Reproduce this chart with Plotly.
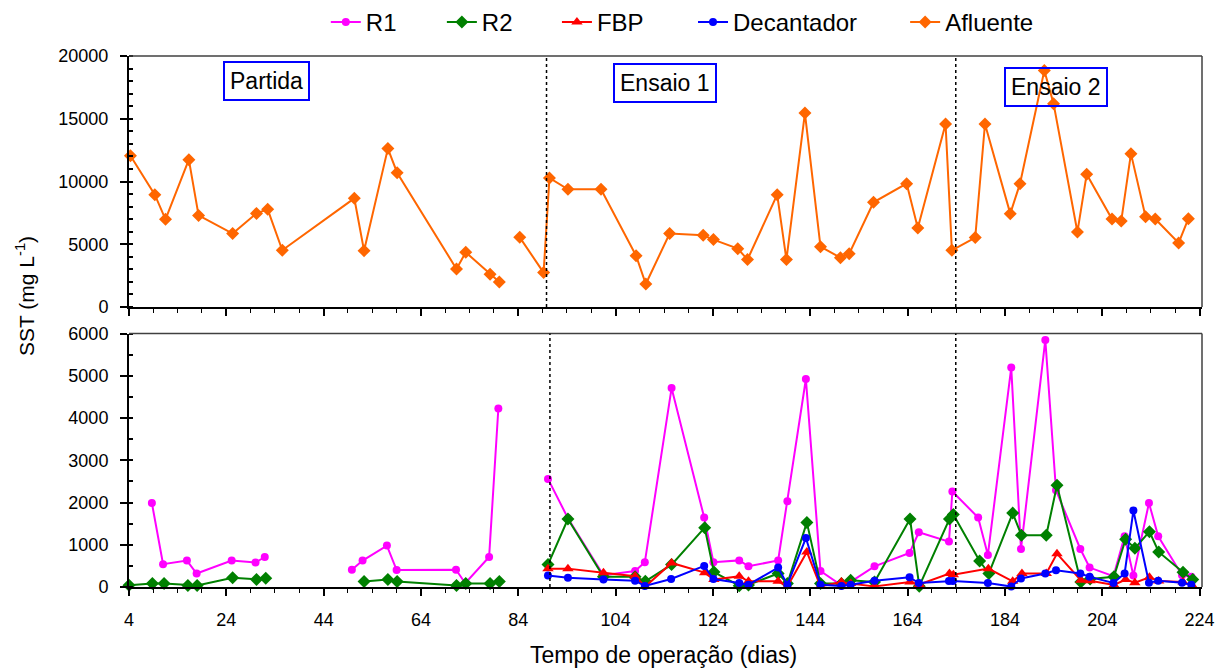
import plotly.graph_objects as go

# ---------------- data ----------------
# Afluente (top panel)
afl_days = [4.3, 9.3, 11.5, 16.3, 18.3, 25.3, 30.2, 32.5, 35.5, 50.3, 52.3, 57.2, 59.1,
            71.3, 73.2, 78.2, 80.1, None, 84.3, 89.2, 90.4, 94.2, 101, 108.2, 110.2,
            115.1, 122, 124.1, 129.1, 131.1, 137.2, 139.1, 142.9, 146.1, 150.2, 152,
            157, 163.8, 166.1, 171.8, 173.1, 177.9, 179.9, 185.1, 187.1, 192.1, 194,
            198.9, 200.8, 206, 207.9, 209.9, 212.9, 214.9, 219.7, 221.7]
afl_vals = [12050, 8950, 6990, 11740, 7300, 5850, 7460, 7780, 4520, 8660, 4490, 12620, 10700,
            3030, 4360, 2600, 1990, None, 5550, 2740, 10280, 9380, 9380, 4090, 1830,
            5850, 5710, 5370, 4650, 3780, 8950, 3780, 15450, 4810, 3930, 4250,
            8340, 9830, 6300, 14580, 4520, 5530, 14580, 7440, 9830, 18850, 16200,
            5980, 10570, 7010, 6850, 12220, 7200, 7010, 5100, 7040]

# R1 (bottom panel)
r1_days = [8.7, 11.0, 15.9, 17.9, 25.1, 30.0, 31.9, None, 49.8, 52.0, 57.0, 59.0, 71.2,
           73.1, 78.0, 79.9, None, 90.1, 94.2, 101.5, 108.0, 110.0, 115.5, 122.2, 124.1,
           129.4, 131.3, 137.4, 139.3, 143.1, 146.1, 150.4, 152.3, 157.2, 164.4, 166.3,
           172.5, 173.2, 178.5, 180.5, 185.3, 187.3, 192.3, 194.5, 199.5, 201.4, 206.3,
           208.6, 210.4, 213.6, 215.5, 220.4, 222.3]
r1_vals = [1990, 540, 625, 320, 625, 580, 710, None, 410, 625, 980, 400, 410,
           90, 710, 4225, None, 2560, 1630, 280, 380, 585, 4710, 1645, 585,
           630, 490, 630, 2030, 4925, 380, 40, 120, 490, 805, 1295,
           1075, 2260, 1645, 760, 5195, 900, 5850, 2290, 900, 460, 255,
           1200, 270, 1990, 1200, 280, 240]

# R2
r2_days = [4.0, 8.8, 11.2, 16.1, 18.0, 25.3, 30.2, 32.1, None, 52.3, 57.2, 59.1, 71.3,
           73.2, 78.2, 80.1, None, 90.1, 94.2, 101.5, 108.0, 110.1, 115.5, 122.3, 124.2,
           129.4, 131.3, 137.4, 139.3, 143.3, 146.1, 150.4, 152.3, 157.2, 164.5, 166.4,
           172.6, 173.4, 178.8, 180.7, 185.6, 187.4, 192.5, 194.7, 199.6, 201.5, 206.4,
           208.8, 210.7, 213.7, 215.6, 220.6, 222.6]
r2_vals = [40, 80, 80, 35, 35, 220, 180, 210, None, 130, 175, 130, 35,
           80, 80, 130, None, 530, 1610, 240, 240, 135, 530, 1405, 355,
           30, 50, 320, 80, 1530, 80, 80, 160, 120, 1610, 20,
           1610, 1715, 615, 320, 1750, 1225, 1225, 2410, 120, 190, 240,
           1130, 915, 1310, 830, 350, 180]

# FBP
fbp_days = [90.1, 94.2, 101.5, 108.0, 110.1, 115.5, 122.3, 124.2, 129.4, 131.3, 137.4,
            139.3, 143.3, 146.1, 150.4, 152.3, 157.2, 164.5, 166.4, 172.6, 173.4, 180.6,
            185.6, 187.5, 192.5, 194.7, 199.6, 201.5, 206.4, 208.8, 210.7, 213.7, 215.6,
            220.6, 222.6]
fbp_vals = [435, 435, 340, 255, 10, 570, 340, 175, 255, 135, 135,
            15, 830, 15, 120, 80, 15, 120, 60, 320, 290, 435,
            135, 320, 320, 790, 160, 150, 50, 175, 100, 230, 145,
            120, 20]

# Decantador
dec_days = [90.1, 94.2, 101.5, 108.0, 110.0, 115.4, 122.2, 124.1, 129.4, 131.3, 137.4,
            139.3, 143.1, 146.1, 150.4, 152.3, 157.2, 164.4, 166.3, 172.5, 173.3, 180.5,
            185.3, 187.3, 192.3, 194.5, 199.5, 201.4, 206.3, 208.6, 210.4, 213.6, 215.5,
            220.4, 222.3]
dec_vals = [275, 220, 180, 150, 25, 190, 500, 190, 95, 55, 460,
            55, 1160, 55, 25, 55, 150, 230, 95, 145, 145, 95,
            10, 200, 320, 395, 320, 240, 95, 320, 1810, 100, 150,
            100, 55]

period_labels = ["Partida", "Ensaio 1", "Ensaio 2"]
divider_days_top = [89.8, 173.9]
divider_days_bottom = [90.5, 173.9]

# ---------------- styling ----------------
FONT = "Liberation Sans, Arial, sans-serif"
L, R, T, B = 129.3, 21.3, 55.7, 81.3
W, H = 1223, 668
PW = W - L - R
PH = H - T - B


def px_x(x):
    return (x - L) / PW


def px_y(y):
    return (H - B - y) / PH


fig = go.Figure()

# name, x, y, colour, symbol, size, xaxis, yaxis, legend id, legend text start (px)
series = [
    ("R1", r1_days, r1_vals, "#FF00FF", "circle", 8, "x", "y", "legend", 368),
    ("R2", r2_days, r2_vals, "#008000", "diamond", 10, "x", "y", "legend2", 484),
    ("FBP", fbp_days, fbp_vals, "#FF0000", "triangle-up", 10, "x", "y", "legend3", 599),
    ("Decantador", dec_days, dec_vals, "#0000FF", "circle", 8, "x", "y", "legend4", 735),
    ("Afluente", afl_days, afl_vals, "#FF6600", "diamond", 10, "x2", "y2", "legend5", 947),
]
legend_layout = {}
for name, xs, ys, col, sym, size, xa, ya, lg, tx in series:
    fig.add_trace(go.Scatter(
        x=xs, y=ys, name=name, mode="lines+markers",
        line=dict(color=col, width=2),
        marker=dict(color=col, symbol=sym, size=size, line=dict(width=0)),
        xaxis=xa, yaxis=ya, cliponaxis=False, legend=lg,
    ))
    legend_layout[lg] = dict(orientation="h", x=px_x(tx - 42), xanchor="left",
                             y=px_y(22), yanchor="middle",
                             font=dict(family=FONT, size=24, color="black"),
                             bgcolor="rgba(0,0,0,0)", borderwidth=0)

xcommon = dict(range=[4, 224.5], tick0=4, dtick=20, ticks="outside", ticklen=7,
               tickwidth=1.5, tickcolor="black", showline=True, linecolor="black",
               linewidth=2, showgrid=False, zeroline=False,
               minor=dict(tick0=4, dtick=5, ticks="outside", ticklen=4,
                          tickcolor="black", tickwidth=1.2),
               tickfont=dict(family=FONT, size=18, color="black"))

ybottom_dom = [0, (H - B - 333.3) / PH]
ytop_dom = [(H - B - 306.7) / PH, 1]

fig.update_layout(
    width=W, height=H,
    margin=dict(l=L, r=R, t=T, b=B, autoexpand=False),
    paper_bgcolor="white", plot_bgcolor="white",
    font=dict(family=FONT, color="black"),
    xaxis=dict(anchor="y", ticklabelstandoff=8, **xcommon),
    xaxis2=dict(anchor="y2", matches="x", showticklabels=False, **xcommon),
    yaxis=dict(domain=ybottom_dom, range=[0, 6000], dtick=1000, ticks="outside",
               ticklen=7, tickwidth=1.5, tickcolor="black", showline=True,
               linecolor="black", linewidth=2, showgrid=False, zeroline=False,
               ticklabelstandoff=8, tickformat="d",
               minor=dict(dtick=500, ticks="inside", ticklen=4, tickcolor="black"),
               tickfont=dict(family=FONT, size=18, color="black")),
    yaxis2=dict(domain=ytop_dom, range=[0, 20000], dtick=5000, ticks="outside",
                ticklen=7, tickwidth=1.5, tickcolor="black", showline=True,
                linecolor="black", linewidth=2, showgrid=False, zeroline=False,
                ticklabelstandoff=8, tickformat="d",
                minor=dict(dtick=1000, ticks="inside", ticklen=4, tickcolor="black"),
                tickfont=dict(family=FONT, size=18, color="black")),
    showlegend=True,
    **legend_layout,
)

# borders (top & right) of both panels
shapes = []
for ya in ["y domain", "y2 domain"]:
    shapes.append(dict(type="line", xref="x domain", yref=ya, x0=0, x1=1, y0=1, y1=1,
                       line=dict(color="#404040", width=1.5)))
    shapes.append(dict(type="line", xref="x domain", yref=ya, x0=1, x1=1, y0=0, y1=1,
                       line=dict(color="#404040", width=1.5)))
for d in divider_days_top:
    shapes.append(dict(type="line", xref="x2", yref="y2 domain", x0=d, x1=d, y0=0, y1=1,
                       line=dict(color="black", width=1.5, dash="dot")))
for d in divider_days_bottom:
    shapes.append(dict(type="line", xref="x", yref="y domain", x0=d, x1=d, y0=0, y1=1,
                       line=dict(color="black", width=1.5, dash="dot")))
fig.update_layout(shapes=shapes)

annotations = []
box_pos = [(267, 81), (665, 83), (1056, 86.5)]
for lab, (bx, by) in zip(period_labels, box_pos):
    annotations.append(dict(text=lab, xref="paper", yref="paper", x=px_x(bx), y=px_y(by),
                            xanchor="center", yanchor="middle", showarrow=False,
                            font=dict(family=FONT, size=23, color="black"),
                            bordercolor="#0000FF", borderwidth=2, borderpad=5))
annotations.append(dict(text="SST (mg L<sup>-1</sup>)", xref="paper", yref="paper",
                        x=px_x(26), y=px_y(296), textangle=-90, showarrow=False,
                        xanchor="center", yanchor="middle",
                        font=dict(family=FONT, size=21, color="black")))
annotations.append(dict(text="Tempo de operação (dias)", xref="paper", yref="paper",
                        x=px_x(664), y=px_y(655), showarrow=False,
                        xanchor="center", yanchor="middle",
                        font=dict(family=FONT, size=23, color="black")))
fig.update_layout(annotations=annotations)

fig.write_html("out.html")
